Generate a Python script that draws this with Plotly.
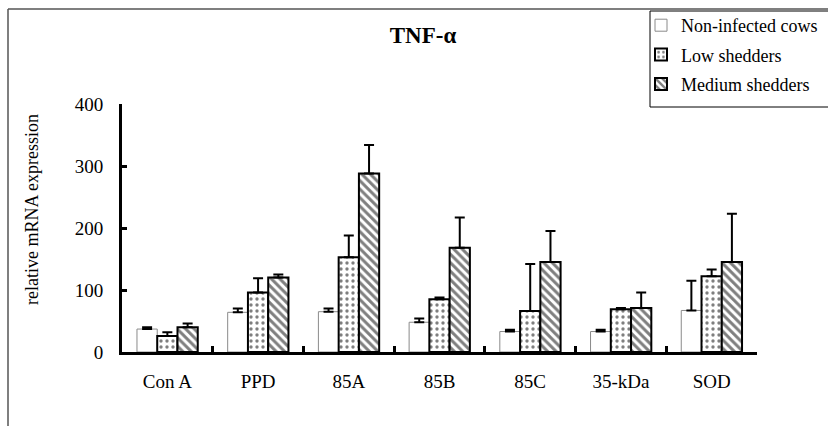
import plotly.graph_objects as go

# Stimulation antigens
categories = ["Con A", "PPD", "85A", "85B", "85C", "35-kDa", "SOD"]

# Relative TNF-α mRNA expression (mean) and upper error (SD) per group
non_infected = [37, 64, 65, 48, 33, 33, 67]
non_infected_err = [3, 6, 5, 6, 3, 3, 48]
low_shedders = [26, 96, 153, 85, 66, 69, 122]
low_shedders_err = [6, 23, 35, 3, 76, 2, 11]
medium_shedders = [40, 120, 288, 168, 145, 71, 145]
medium_shedders_err = [6, 5, 46, 49, 50, 25, 78]

FONT = "Liberation Serif"

# plot-area geometry (pixels)
W, H = 828, 426
L, R, T, B = 122, 71, 104, 74
PW, PH = W - L - R, H - T - B


def px_x(p):
    return (p - L) / PW


def px_y(p):
    return (H - B - p) / PH


def err(vals):
    return dict(type="data", symmetric=False, array=vals,
                arrayminus=[0] * len(vals), color="black",
                thickness=2, width=5)


fig = go.Figure()
fig.add_trace(go.Bar(
    name="Non-infected cows", x=categories, y=non_infected,
    legendgroup="a", error_y=err(non_infected_err),
    marker=dict(color="white", line=dict(color="#8a8a8a", width=1)),
))
fig.add_trace(go.Bar(
    name="Low shedders", x=categories, y=low_shedders,
    legendgroup="b", error_y=err(low_shedders_err),
    marker=dict(color="white", line=dict(color="black", width=2),
                pattern=dict(shape=".", fgcolor="black", bgcolor="white",
                             size=6, solidity=0.25)),
))
fig.add_trace(go.Bar(
    name="Medium shedders", x=categories, y=medium_shedders,
    legendgroup="c", error_y=err(medium_shedders_err),
    marker=dict(color="white", line=dict(color="black", width=2),
                pattern=dict(shape="\\", fgcolor="black", bgcolor="white",
                             size=6, solidity=0.5)),
))

fig.update_layout(
    width=W, height=H,
    margin=dict(l=L, r=R, t=T, b=B, autoexpand=False),
    paper_bgcolor="white", plot_bgcolor="white",
    font=dict(family=FONT, size=19, color="black"),
    barmode="group", bargap=0.33, bargroupgap=0,
    showlegend=True,
    title=dict(text="<b>TNF-α</b>", font=dict(family=FONT, size=23, color="black"),
               xref="paper", x=px_x(423), xanchor="center",
               yref="container", y=1 - 35 / H, yanchor="middle"),
    legend=dict(x=px_x(641), xanchor="left", y=px_y(7), yanchor="top",
                bgcolor="rgba(0,0,0,0)", borderwidth=0,
                font=dict(family=FONT, size=18, color="black"),
                traceorder="grouped", tracegroupgap=3, itemwidth=30),
    xaxis=dict(showline=True, linecolor="black", linewidth=3,
               ticks="inside", tickson="boundaries", ticklen=6,
               tickwidth=3, tickcolor="black",
               ticklabelstandoff=10, showgrid=False, zeroline=False,
               tickfont=dict(family=FONT, size=19)),
    yaxis=dict(range=[0, 400], tickvals=[0, 100, 200, 300, 400],
               showline=True, linecolor="black", linewidth=3,
               ticks="inside", ticklen=5, tickwidth=3, tickcolor="black",
               ticklabelstandoff=12, showgrid=False, zeroline=False,
               tickfont=dict(family=FONT, size=19)),
    annotations=[dict(text="relative mRNA expression", textangle=-90,
                      xref="paper", yref="paper", x=px_x(32), y=px_y(210),
                      xanchor="center", yanchor="middle", showarrow=False,
                      font=dict(family=FONT, size=18, color="black"))],
    shapes=[
        # outer frame (left and top edges)
        dict(type="line", xref="paper", yref="paper",
             x0=px_x(8), x1=px_x(8), y0=px_y(430), y1=px_y(9),
             line=dict(color="#555555", width=1.5)),
        dict(type="line", xref="paper", yref="paper",
             x0=px_x(8), x1=px_x(830), y0=px_y(9), y1=px_y(9),
             line=dict(color="#555555", width=1.5)),
        # legend box
        dict(type="rect", xref="paper", yref="paper",
             x0=px_x(650), x1=px_x(832), y0=px_y(107), y1=px_y(11),
             line=dict(color="black", width=1), layer="below"),
    ],
)

fig.write_html("out.html")
